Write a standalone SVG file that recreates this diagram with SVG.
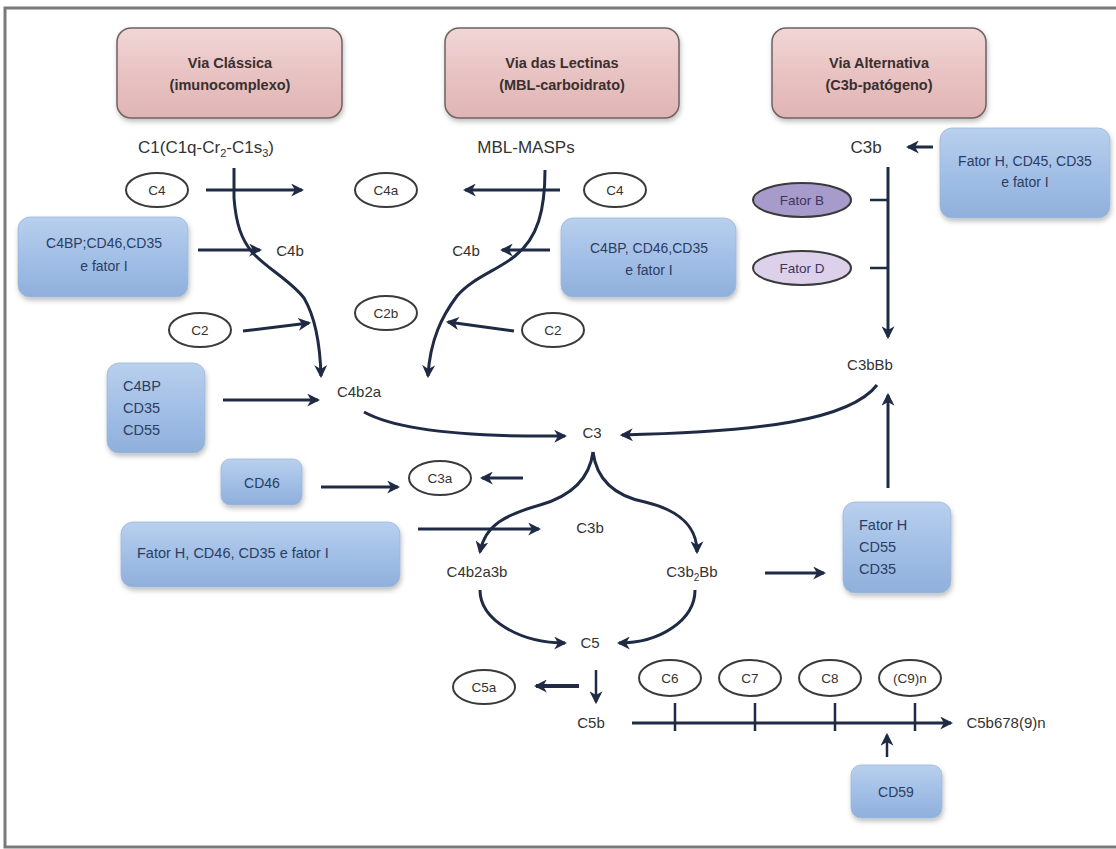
<svg xmlns="http://www.w3.org/2000/svg" width="1116" height="849" viewBox="0 0 1116 849">
<defs>
<linearGradient id="pink" x1="0" y1="0" x2="0" y2="1">
<stop offset="0" stop-color="#f1d6d6"/><stop offset="0.5" stop-color="#e9c3c3"/><stop offset="1" stop-color="#e0b4b4"/>
</linearGradient>
<linearGradient id="blue" x1="0" y1="0" x2="0" y2="1">
<stop offset="0" stop-color="#b9d0ee"/><stop offset="0.5" stop-color="#a2bfe6"/><stop offset="1" stop-color="#8fb0dc"/>
</linearGradient>
<filter id="sh" x="-10%" y="-10%" width="130%" height="140%">
<feDropShadow dx="1" dy="3" stdDeviation="2.5" flood-color="#000" flood-opacity="0.25"/>
</filter>
<marker id="ah" viewBox="0 0 12 12" markerWidth="13" markerHeight="13" refX="10" refY="6" orient="auto" markerUnits="userSpaceOnUse">
<path d="M0,0 L12,6 L0,12 L3.5,6 z" fill="#1f2b45"/>
</marker>
<style>
.hdr{fill:url(#pink);stroke:#6f6262;stroke-width:1.5;filter:url(#sh)}
.bx{fill:url(#blue);stroke:#9fb8d8;stroke-width:0.8;filter:url(#sh)}
.el{fill:#fff;stroke:#3a3a3a;stroke-width:2}
.ht{font-family:"Liberation Sans",Arial,sans-serif;font-size:14.5px;font-weight:bold;fill:#3a2f2f;text-anchor:middle}
.bt{font-family:"Liberation Sans",Arial,sans-serif;font-size:14px;fill:#2b3d63;text-anchor:middle}
.bl{font-family:"Liberation Sans",Arial,sans-serif;font-size:14.5px;fill:#2b3d63}
.lb{font-family:"Liberation Sans",Arial,sans-serif;font-size:15px;fill:#333;text-anchor:middle}
.et{font-family:"Liberation Sans",Arial,sans-serif;font-size:13.5px;fill:#333;text-anchor:middle}
.cn{fill:none;stroke:#1f2b45;stroke-width:3}
.ar{marker-end:url(#ah)}
.tk{fill:none;stroke:#1f2b45;stroke-width:2.5}
</style>
</defs>
<rect x="0" y="0" width="1116" height="849" fill="#fff"/>
<rect x="5" y="8" width="1125" height="839" fill="#fff" stroke="#7a7a7a" stroke-width="3"/>

<g id="via-classica"><rect class="hdr" x="117" y="28" width="225" height="90" rx="14"/>
<text class="ht" x="230" y="68">Via Clássica</text><text class="ht" x="230" y="90">(imunocomplexo)</text></g>
<g id="via-lectinas"><rect class="hdr" x="445" y="28" width="234" height="90" rx="14"/>
<text class="ht" x="562" y="68">Via das Lectinas</text><text class="ht" x="562" y="90">(MBL-carboidrato)</text></g>
<g id="via-alternativa"><rect class="hdr" x="772" y="28" width="214" height="90" rx="14"/>
<text class="ht" x="879" y="68">Via Alternativa</text><text class="ht" x="879" y="90">(C3b-patógeno)</text></g>

<g id="c1"><text class="lb" style="font-size:17px" x="206" y="153">C1(C1q-Cr<tspan font-size="11" dy="4">2</tspan><tspan dy="-4">-C1s</tspan><tspan font-size="11" dy="4">3</tspan><tspan dy="-4">)</tspan></text></g>
<g id="mbl"><text class="lb" style="font-size:17px" x="526" y="153">MBL-MASPs</text></g>
<g id="c3b-top"><text class="lb" style="font-size:17px" x="866" y="153">C3b</text></g>

<g id="reg-alt-top"><rect class="bx" x="940" y="128" width="170" height="90" rx="12"/>
<text class="bt" x="1025" y="166">Fator H, CD45, CD35</text><text class="bt" x="1025" y="187">e fator I</text></g>

<g id="c4-left"><ellipse class="el" cx="157" cy="190" rx="31" ry="17"/><text class="et" x="157" y="195">C4</text></g>
<g id="c4a"><ellipse class="el" cx="386" cy="190" rx="31" ry="17"/><text class="et" x="386" y="195">C4a</text></g>
<g id="c4-right"><ellipse class="el" cx="615" cy="190" rx="31" ry="17"/><text class="et" x="615" y="195">C4</text></g>

<g id="fator-b"><ellipse cx="802" cy="200" rx="49" ry="17" fill="#a79bcb" stroke="#3a3a3a" stroke-width="2"/><text class="et" x="802" y="205" style="fill:#3b3560">Fator B</text></g>
<g id="fator-d"><ellipse cx="802" cy="268" rx="49" ry="17" fill="#ddd0ea" stroke="#3a3a3a" stroke-width="2"/><text class="et" x="802" y="273" style="fill:#3b3560">Fator D</text></g>

<g id="reg-class-c4"><rect class="bx" x="18" y="217" width="170" height="80" rx="12"/>
<text class="bt" x="104" y="248">C4BP;CD46,CD35</text><text class="bt" x="104" y="271">e fator I</text></g>
<g id="reg-lect-c4"><rect class="bx" x="561" y="218" width="175" height="79" rx="12"/>
<text class="bt" x="649" y="253">C4BP, CD46,CD35</text><text class="bt" x="649" y="275">e fator I</text></g>

<g id="c4b-left"><text class="lb" x="290" y="256">C4b</text></g>
<g id="c4b-right"><text class="lb" x="466" y="256">C4b</text></g>

<g id="c2-left"><ellipse class="el" cx="200" cy="330" rx="31" ry="17"/><text class="et" x="200" y="335">C2</text></g>
<g id="c2b"><ellipse class="el" cx="386" cy="313" rx="31" ry="17"/><text class="et" x="386" y="318">C2b</text></g>
<g id="c2-right"><ellipse class="el" cx="553" cy="330" rx="31" ry="17"/><text class="et" x="553" y="335">C2</text></g>

<g id="reg-c4b2a"><rect class="bx" x="107" y="363" width="98" height="90" rx="12"/>
<text class="bl" x="123" y="391">C4BP</text><text class="bl" x="123" y="413">CD35</text><text class="bl" x="123" y="435">CD55</text></g>
<g id="c4b2a"><text class="lb" x="359" y="397">C4b2a</text></g>
<g id="c3bbb"><text class="lb" x="870" y="370">C3bBb</text></g>
<g id="c3"><text class="lb" x="592" y="438">C3</text></g>

<g id="cd46"><rect class="bx" x="221" y="459" width="81" height="46" rx="9"/><text class="bt" x="262" y="488">CD46</text></g>
<g id="c3a"><ellipse class="el" cx="440" cy="478" rx="31" ry="17"/><text class="et" x="440" y="483">C3a</text></g>

<g id="reg-c3b"><rect class="bx" x="121" y="522" width="279" height="65" rx="12"/>
<text class="bl" x="137" y="558">Fator H, CD46, CD35 e fator I</text></g>
<g id="c3b-mid"><text class="lb" x="590" y="533">C3b</text></g>
<g id="c4b2a3b"><text class="lb" x="477" y="577">C4b2a3b</text></g>
<g id="c3b2bb"><text class="lb" x="692" y="577">C3b<tspan font-size="10" dy="4">2</tspan><tspan dy="-4">Bb</tspan></text></g>

<g id="reg-c3b2bb"><rect class="bx" x="843" y="502" width="108" height="91" rx="12"/>
<text class="bl" x="859" y="530">Fator H</text><text class="bl" x="859" y="552">CD55</text><text class="bl" x="859" y="574">CD35</text></g>

<g id="c5"><text class="lb" x="590" y="648">C5</text></g>
<g id="c5a"><ellipse class="el" cx="484" cy="687" rx="31" ry="17"/><text class="et" x="484" y="692">C5a</text></g>
<g id="c5b"><text class="lb" x="591" y="728">C5b</text></g>
<g id="c6"><ellipse class="el" cx="670" cy="678" rx="31" ry="18"/><text class="et" x="670" y="683">C6</text></g>
<g id="c7"><ellipse class="el" cx="750" cy="678" rx="31" ry="18"/><text class="et" x="750" y="683">C7</text></g>
<g id="c8"><ellipse class="el" cx="830" cy="678" rx="31" ry="18"/><text class="et" x="830" y="683">C8</text></g>
<g id="c9n"><ellipse class="el" cx="910" cy="678" rx="31" ry="18"/><text class="et" x="910" y="683">(C9)n</text></g>
<g id="mac"><text class="lb" x="1006" y="728">C5b678(9)n</text></g>
<g id="cd59"><rect class="bx" x="851" y="765" width="91" height="53" rx="10"/><text class="bt" x="896" y="797">CD59</text></g>

<g id="connectors">
<path class="cn ar" d="M234,168 L234,198 C236,225 242,240 252,252 C266,268 290,280 304,298 C314,315 320,340 321,376"/>
<path class="cn ar" d="M545,170 C545,210 538,238 515,256 C498,270 472,278 457,296 C442,316 430,340 428,376"/>
<path class="cn ar" d="M206,190 L302,190"/>
<path class="cn ar" d="M560,190 L465,190"/>
<path class="cn ar" d="M198,250 L260,250"/>
<path class="cn ar" d="M550,250 L502,250"/>
<path class="cn ar" d="M243,331 L309,323"/>
<path class="cn ar" d="M514,331 L448,322"/>
<path class="cn ar" d="M223,400 L318,400"/>
<path class="cn ar" d="M364,412 C400,432 480,437 565,436"/>
<path class="cn ar" d="M877,385 C850,420 760,432 622,435"/>
<path class="cn ar" d="M888,488 L888,395"/>
<path class="cn ar" d="M888,167 L888,337"/>
<path class="tk" d="M870,200 L888,200 M870,268 L888,268"/>
<path class="cn ar" d="M933,147 L908,147"/>
<path class="cn ar" d="M321,487 L398,487"/>
<path class="cn ar" d="M523,478 L482,478"/>
<path class="cn ar" d="M418,529 L539,529"/>
<path class="cn ar" d="M593,452 C590,475 575,495 540,505 C505,515 485,525 480,552"/>
<path class="cn ar" d="M593,452 C596,475 610,495 645,502 C678,510 697,525 697,552"/>
<path class="cn ar" d="M480,590 C480,620 520,643 565,643"/>
<path class="cn ar" d="M695,590 C695,620 660,643 619,643"/>
<path class="cn ar" d="M765,573 L824,573"/>
<path class="cn ar" style="stroke-width:4" d="M579,686 L536,686"/>
<path class="cn ar" style="stroke-width:2.5" d="M596,670 L596,702"/>
<path class="cn ar" d="M632,723 L951,723"/>
<path class="tk" d="M675,703 L675,731 M755,703 L755,731 M835,703 L835,731 M915,703 L915,731"/>
<path class="cn ar" style="stroke-width:2.5" d="M887,757 L887,735"/>
</g>
</svg>
